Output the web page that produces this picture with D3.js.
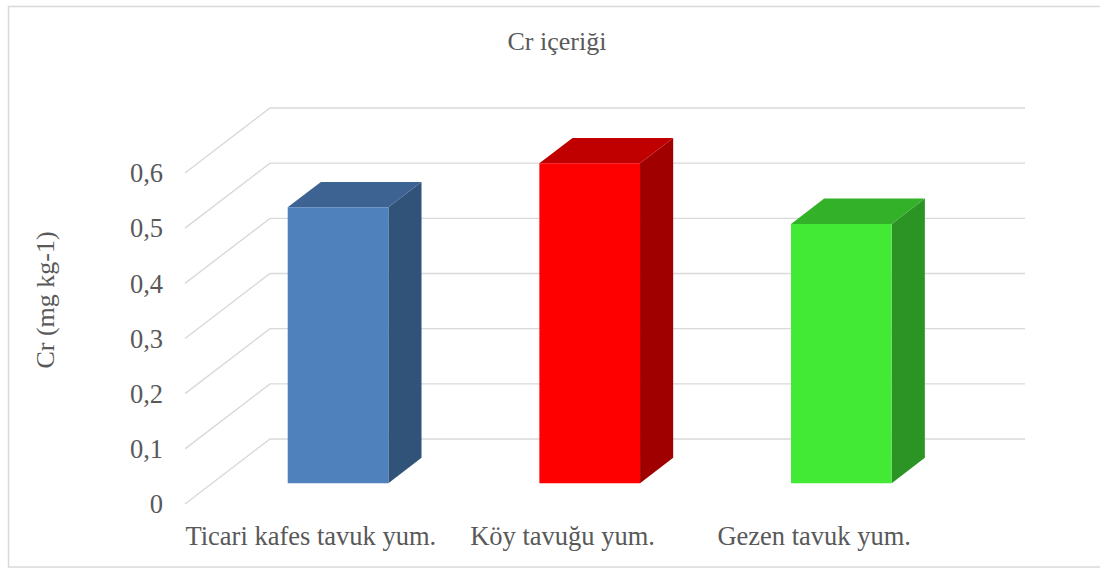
<!DOCTYPE html>
<html><head><meta charset="utf-8">
<script src="https://cdn.jsdelivr.net/npm/d3@7"></script>
<style>
html,body{margin:0;padding:0;background:#fff;}
svg{display:block;}
text{font-family:"Liberation Serif","Times New Roman",serif;fill:#595959;}
</style></head>
<body>
<svg id="chart" width="1100" height="568"></svg>
<script>
const categories = ["Ticari kafes tavuk yum.", "Köy tavuğu yum.", "Gezen tavuk yum."];
const values = [0.50, 0.58, 0.47];
const frontColors = ["#4F81BD", "#FF0000", "#42EA35"];
const topColors = ["#3C6391", "#C00000", "#33B229"];
const sideColors = ["#325379", "#A00000", "#2C9425"];
const yTicks = [0, 0.1, 0.2, 0.3, 0.4, 0.5, 0.6];
const title = "Cr içeriği";
const yTitle = "Cr (mg kg-1)";

const svg = d3.select("#chart");
const locale = d3.formatLocale({decimal: ",", thousands: ".", grouping: [3], currency: ["", ""]});
const fmt = v => v === 0 ? "0" : locale.format(".1f")(v);

// 3D projection: front plane + depth vector
const depthDX = 85, depthDY = -65;
const y = d3.scaleLinear().domain([0, 0.6]).range([504, 173]);
const x = d3.scaleBand().domain(categories).range([185, 940]);
const barD0 = 0.32, barD1 = 0.71, barFrac = 0.4;
const P = (px, v, d) => [px + d * depthDX, y(v) + d * depthDY];

// border
svg.append("rect").attr("x", 8.5).attr("y", 6.5).attr("width", 1100).attr("height", 560.5)
  .attr("fill", "none").attr("stroke", "#d9d9d9").attr("stroke-width", 1.5);

// gridlines
const grid = svg.append("g").attr("stroke", "#d9d9d9").attr("stroke-width", 1.4).attr("fill", "none");
yTicks.forEach(t => {
  const a = P(x.range()[0], t, 0), b = P(x.range()[0], t, 1), c = P(x.range()[1], t, 1);
  grid.append("path").attr("d", `M${a}L${b}L${c}`);
});

// bars
const bars = svg.append("g");
categories.forEach((cat, i) => {
  const v = values[i];
  const cx = x(cat) + x.bandwidth() / 2;
  const w = x.bandwidth() * barFrac;
  const xl = cx - w / 2, xr = cx + w / 2;
  const ftl = P(xl, v, barD0), ftr = P(xr, v, barD0), fbr = P(xr, 0, barD0), fbl = P(xl, 0, barD0);
  const btl = P(xl, v, barD1), btr = P(xr, v, barD1), bbr = P(xr, 0, barD1);
  bars.append("path").attr("d", `M${ftr}L${btr}L${bbr}L${fbr}Z`).attr("fill", sideColors[i]);
  bars.append("path").attr("d", `M${ftl}L${ftr}L${btr}L${btl}Z`).attr("fill", topColors[i]);
  bars.append("path").attr("d", `M${ftl}L${ftr}L${fbr}L${fbl}Z`).attr("fill", frontColors[i]);
});

// y tick labels
svg.append("g").selectAll("text").data(yTicks).join("text")
  .attr("x", 163).attr("y", d => y(d)).attr("dy", "0.35em")
  .attr("text-anchor", "end").style("font-size", "26.5px").text(fmt);

// category labels
svg.append("g").selectAll("text").data(categories).join("text")
  .attr("x", d => x(d) + x.bandwidth() / 2).attr("y", 545)
  .attr("text-anchor", "middle").style("font-size", "26.5px").text(d => d);

// title
svg.append("text").attr("x", 557).attr("y", 50).attr("text-anchor", "middle")
  .style("font-size", "26px").text(title);

// y title
svg.append("text").attr("transform", "translate(54,300) rotate(-90)")
  .attr("text-anchor", "middle").style("font-size", "26px").text(yTitle);
</script>
</body></html>
